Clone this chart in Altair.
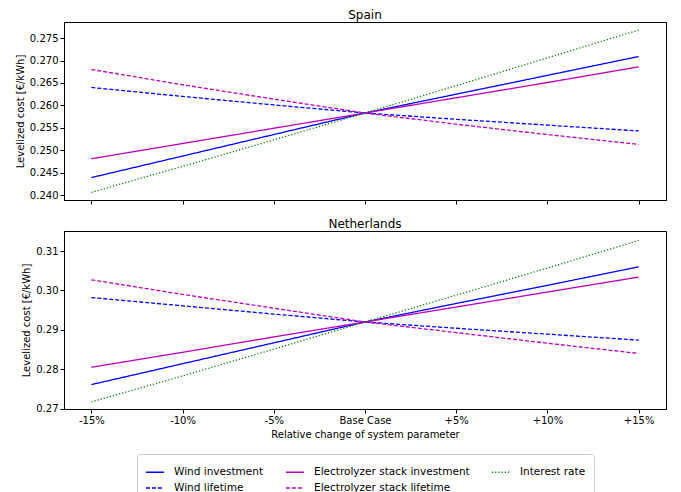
import altair as alt
import pandas as pd

changes = [-15, -10, -5, 0, 5, 10, 15]
tick_labels = ["-15%", "-10%", "-5%", "Base Case", "+5%", "+10%", "+15%"]
series_names = ["Wind investment", "Wind lifetime", "Electrolyzer stack investment",
                "Electrolyzer stack lifetime", "Interest rate"]
series_colors = ["#0000ff", "#0000ff", "#bf00bf", "#bf00bf", "#008000"]
series_dash = [[1, 0], [4, 2], [1, 0], [4, 2], [1.2, 2]]

spain_wind_inv = [0.2439, 0.2487, 0.2535, 0.2583, 0.2625, 0.2667, 0.2709]
spain_wind_life = [0.2640, 0.2620, 0.2601, 0.2583, 0.2569, 0.2556, 0.2543]
spain_elec_inv = [0.2481, 0.2515, 0.2549, 0.2583, 0.2617, 0.2651, 0.2686]
spain_elec_life = [0.2680, 0.2646, 0.2614, 0.2583, 0.2558, 0.2535, 0.2513]
spain_interest = [0.2406, 0.2464, 0.2523, 0.2583, 0.2644, 0.2706, 0.2768]

nl_wind_inv = [0.2761, 0.2814, 0.2867, 0.2920, 0.2967, 0.3013, 0.3060]
nl_wind_life = [0.2982, 0.2961, 0.2940, 0.2920, 0.2904, 0.2889, 0.2874]
nl_elec_inv = [0.2805, 0.2843, 0.2882, 0.2920, 0.2958, 0.2996, 0.3034]
nl_elec_life = [0.3027, 0.2990, 0.2955, 0.2920, 0.2893, 0.2866, 0.2840]
nl_interest = [0.2717, 0.2783, 0.2851, 0.2920, 0.2988, 0.3057, 0.3127]

spain_ticks = [0.240, 0.245, 0.250, 0.255, 0.260, 0.265, 0.270, 0.275]
nl_ticks = [0.27, 0.28, 0.29, 0.30, 0.31]

FONT = "DejaVu Sans"


def make_df(series_lists):
    rows = []
    for name, vals in zip(series_names, series_lists):
        for c, v in zip(changes, vals):
            rows.append({"change": c, "cost": v, "series": name})
    return pd.DataFrame(rows)


spain_df = make_df([spain_wind_inv, spain_wind_life, spain_elec_inv, spain_elec_life, spain_interest])
nl_df = make_df([nl_wind_inv, nl_wind_life, nl_elec_inv, nl_elec_life, nl_interest])

label_expr = ""
for c, t in zip(changes, tick_labels):
    label_expr += f"datum.value == {c} ? '{t}' : "
label_expr += "''"

color_scale = alt.Scale(domain=series_names, range=series_colors)
dash_scale = alt.Scale(domain=series_names, range=series_dash)

legend = alt.Legend(
    title=None, orient="none", legendX=73, legendY=432, columns=3,
    symbolType="stroke", symbolSize=330, symbolStrokeWidth=1.5,
    labelFont=FONT, labelFontSize=10.5, labelColor="black",
    strokeColor="#cccccc", padding=8, cornerRadius=3, fillColor="white",
    columnPadding=18, rowPadding=0, labelLimit=300, labelOffset=9,
)


def panel(df, title, ticks, domain, fmt, show_x):
    x_axis = alt.Axis(
        values=changes, labelExpr=label_expr if show_x else "''",
        title="Relative change of system parameter" if show_x else None,
        labels=show_x, grid=False, tickSize=4,
    )
    return alt.Chart(df, title=alt.TitleParams(title, font=FONT, fontSize=12,
                                               fontWeight="normal", offset=0)).mark_line(
        strokeWidth=1.3
    ).encode(
        x=alt.X("change:Q", scale=alt.Scale(domain=[-16.5, 16.5], nice=False, zero=False),
                axis=x_axis),
        y=alt.Y("cost:Q", scale=alt.Scale(domain=domain, nice=False, zero=False),
                axis=alt.Axis(values=ticks, format=fmt, title="Levelized cost [€/kWh]",
                              grid=False, tickSize=4)),
        color=alt.Color("series:N", scale=color_scale, legend=legend, sort=series_names),
        strokeDash=alt.StrokeDash("series:N", scale=dash_scale, legend=legend, sort=series_names),
    ).properties(width=602, height=178)


top = panel(spain_df, "Spain", spain_ticks, [0.2389, 0.2786], ".3f", False)
bottom = panel(nl_df, "Netherlands", nl_ticks, [0.2699, 0.3151], ".2f", True)

chart = alt.vconcat(top, bottom, spacing=12).properties(
    padding={"left": 6, "top": 0, "right": 0, "bottom": 0}
).configure_view(
    stroke="black", strokeWidth=1
).configure_axis(
    labelFont=FONT, titleFont=FONT, labelFontSize=10, titleFontSize=10,
    titleFontWeight="normal", labelColor="black", titleColor="black",
    domainColor="black", tickColor="black",
)

chart.save("out.html", embed_options={"renderer": "svg", "actions": False})
